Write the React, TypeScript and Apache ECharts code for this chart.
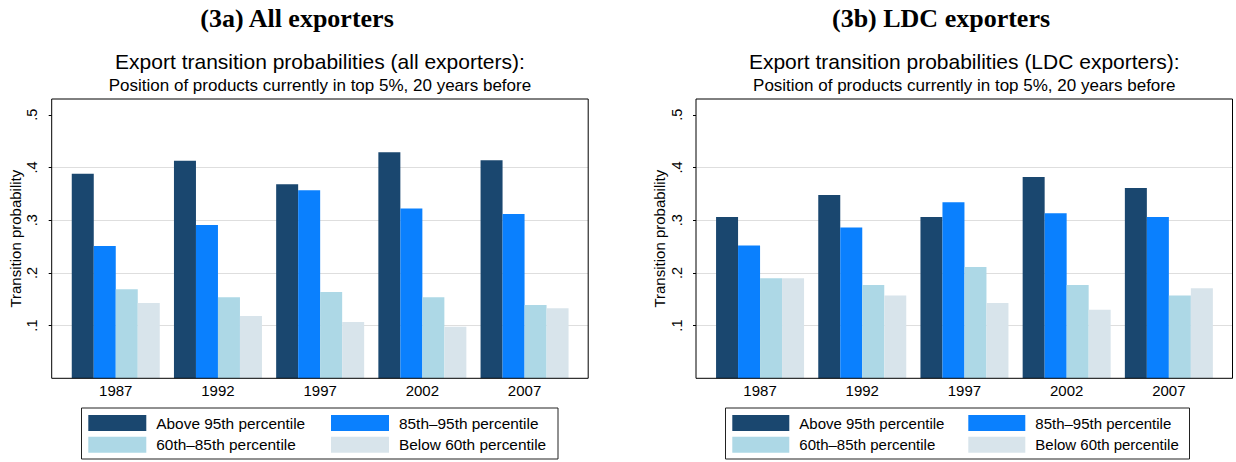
import React, { useEffect, useRef } from 'react';
import * as echarts from 'echarts';

// ---------- data ----------
const categories = ['1987', '1992', '1997', '2002', '2007'];
const seriesNames = ['Above 95th percentile', '85th\u201395th percentile', '60th\u201385th percentile', 'Below 60th percentile'];
const seriesColors = ['#1a476f', '#0a80fe', '#add8e6', '#d8e4eb'];

const allAbove95 = [0.388, 0.413, 0.368, 0.429, 0.414];
const all85to95 = [0.251, 0.291, 0.357, 0.322, 0.312];
const all60to85 = [0.169, 0.154, 0.164, 0.154, 0.139];
const allBelow60 = [0.143, 0.118, 0.107, 0.098, 0.133];

const ldcAbove95 = [0.306, 0.348, 0.306, 0.382, 0.361];
const ldc85to95 = [0.252, 0.286, 0.334, 0.313, 0.306];
const ldc60to85 = [0.190, 0.177, 0.211, 0.177, 0.157];
const ldcBelow60 = [0.190, 0.157, 0.143, 0.130, 0.171];

const yTicks = [0.1, 0.2, 0.3, 0.4, 0.5];
const yTickLabels = ['.1', '.2', '.3', '.4', '.5'];
const yAxisTitle = 'Transition probability';
const subtitle2 = 'Position of products currently in top 5%, 20 years before';

// ---------- layout ----------
const SANS = '"Liberation Sans", Arial, Helvetica, sans-serif';
const SERIF = '"Liberation Serif", "Times New Roman", serif';
const TOP = 99;
const ZERO_Y = 378.3;
const Y_MAX = 0.53;
const FRAME_W = 536.5;
const BAR_OFFSET = 12.96;
const BAR_GRID_W = 511;
const yOf = (v: number) => ZERO_Y - (v / Y_MAX) * (ZERO_Y - TOP);

const panels = [
  {
    title: '(3a) All exporters',
    sub1: 'Export transition probabilities (all exporters):',
    data: [allAbove95, all85to95, all60to85, allBelow60],
    frameX: 51.7,
    titleX: 297,
    legendBox: { x: 81.5, w: 476.5 },
    legendCols: [88.3, 331],
    itemW: 58,
    legendFont: 15.4,
  },
  {
    title: '(3b) LDC exporters',
    sub1: 'Export transition probabilities (LDC exporters):',
    data: [ldcAbove95, ldc85to95, ldc60to85, ldcBelow60],
    frameX: 696,
    titleX: 941,
    legendBox: { x: 725.5, w: 464 },
    legendCols: [732.3, 968.3],
    itemW: 57,
    legendFont: 15,
  },
];
const legendRows = [415, 436.7];

function buildOption() {
  const grid: any[] = [];
  const xAxis: any[] = [];
  const yAxis: any[] = [];
  const series: any[] = [];
  const legend: any[] = [];
  const graphic: any[] = [];

  panels.forEach((p, pi) => {
    const tickGrid = pi * 2;
    const barGrid = pi * 2 + 1;
    grid.push({
      left: p.frameX,
      top: yOf(0.5),
      width: FRAME_W,
      height: yOf(0.1) - yOf(0.5),
      containLabel: false,
    });
    grid.push({
      left: p.frameX + BAR_OFFSET,
      top: TOP,
      width: BAR_GRID_W,
      height: ZERO_Y - TOP,
      containLabel: false,
    });
    xAxis.push({ type: 'value', gridIndex: tickGrid, show: false, min: 0, max: 1 });
    xAxis.push({
      type: 'category',
      gridIndex: barGrid,
      data: categories,
      axisLine: { show: false },
      axisTick: { show: false },
      splitLine: { show: false },
      axisLabel: { fontSize: 15, color: '#000', margin: 5, fontFamily: SANS },
    });
    yAxis.push({
      type: 'value',
      gridIndex: tickGrid,
      min: 0.1,
      max: 0.5,
      interval: 0.1,
      axisLine: { show: false },
      axisTick: { show: true, length: 3, lineStyle: { color: '#000', width: 1 } },
      axisLabel: {
        rotate: 90,
        margin: 12,
        fontSize: 14.5,
        color: '#000',
        fontFamily: SANS,
        formatter: (v: number) => {
          const i = yTicks.findIndex((t) => Math.abs(t - v) < 1e-6);
          return i >= 0 ? yTickLabels[i] : '';
        },
      },
      splitLine: {
        show: true,
        lineStyle: { color: ['#dedede', '#dedede', '#dedede', '#dedede', 'rgba(0,0,0,0)'], width: 1 },
      },
    });
    yAxis.push({ type: 'value', gridIndex: barGrid, min: 0, max: Y_MAX, show: false });

    seriesNames.forEach((name, si) => {
      series.push({
        type: 'bar',
        name,
        xAxisIndex: barGrid,
        yAxisIndex: barGrid,
        data: p.data[si],
        barWidth: 22,
        barGap: '0%',
        itemStyle: { color: seriesColors[si] },
        emphasis: { disabled: true },
      });
      const col = si % 2;
      const row = Math.floor(si / 2);
      legend.push({
        data: [name],
        left: p.legendCols[col],
        top: legendRows[row],
        padding: 0,
        itemWidth: p.itemW,
        itemHeight: 16,
        icon: 'rect',
        selectedMode: false,
        textStyle: { fontSize: p.legendFont, color: '#000', fontFamily: SANS, lineHeight: 16, padding: [0, 0, 0, 5] },
      });
    });

    // frame
    graphic.push({
      type: 'rect',
      shape: { x: p.frameX, y: TOP, width: FRAME_W, height: ZERO_Y - TOP },
      style: { fill: 'none', stroke: '#000', lineWidth: 1 },
      z: 10,
    });
    // legend box
    graphic.push({
      type: 'rect',
      shape: { x: p.legendBox.x, y: 408, width: p.legendBox.w, height: 51 },
      style: { fill: 'none', stroke: '#222', lineWidth: 1 },
      z: 10,
    });
    // titles
    graphic.push({
      type: 'text',
      x: p.titleX,
      y: 18,
      style: {
        text: p.title, fontSize: 26, fontWeight: 'bold', fontFamily: SERIF, fill: '#000',
        align: 'center', verticalAlign: 'middle', textAlign: 'center', textVerticalAlign: 'middle',
      },
    });
    const cx = p.frameX + FRAME_W / 2;
    graphic.push({
      type: 'text',
      x: cx,
      y: 61,
      style: {
        text: p.sub1, fontSize: 21, fontFamily: SANS, fill: '#000',
        align: 'center', verticalAlign: 'middle', textAlign: 'center', textVerticalAlign: 'middle',
      },
    });
    graphic.push({
      type: 'text',
      x: cx,
      y: 85,
      style: {
        text: subtitle2, fontSize: 17, fontFamily: SANS, fill: '#000',
        align: 'center', verticalAlign: 'middle', textAlign: 'center', textVerticalAlign: 'middle',
      },
    });
    graphic.push({
      type: 'text',
      x: p.frameX - 36.7,
      y: (TOP + ZERO_Y) / 2,
      rotation: Math.PI / 2,
      style: {
        text: yAxisTitle, fontSize: 15, fontFamily: SANS, fill: '#000',
        align: 'center', verticalAlign: 'middle', textAlign: 'center', textVerticalAlign: 'middle',
      },
    });
  });

  return {
    animation: false,
    backgroundColor: '#fff',
    grid,
    xAxis,
    yAxis,
    series,
    legend,
    graphic,
  };
}

export default function App() {
  const ref = useRef<HTMLDivElement>(null);
  useEffect(() => {
    if (!ref.current) return;
    const chart = echarts.init(ref.current, null, { renderer: 'svg', width: 1236, height: 462 });
    chart.setOption(buildOption() as any);
    return () => chart.dispose();
  }, []);
  return (
    <div
      ref={ref}
      style={{ position: 'fixed', left: 0, top: 0, width: 1236, height: 462, background: '#fff' }}
    />
  );
}
